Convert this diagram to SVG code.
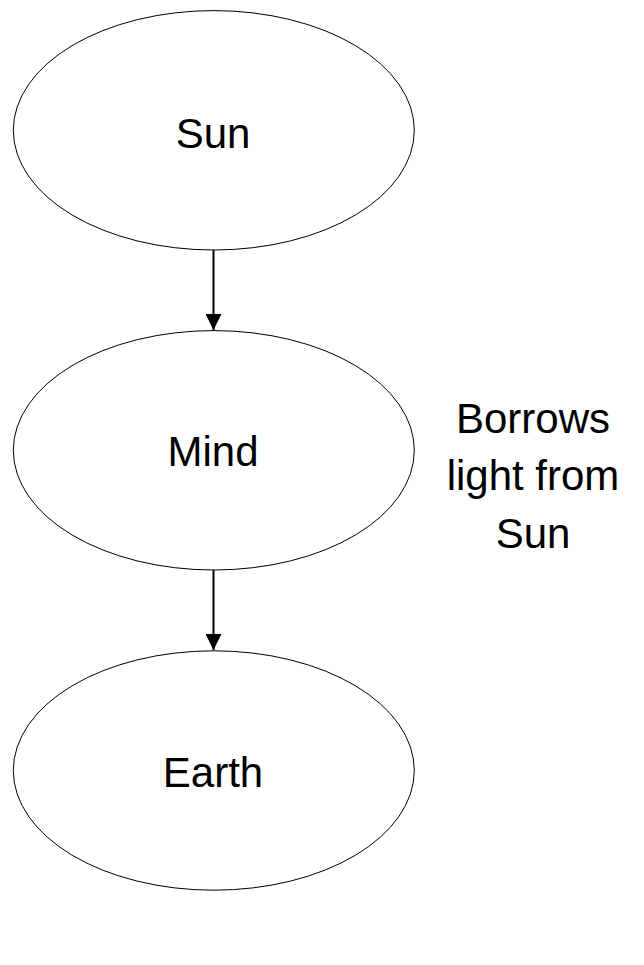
<svg xmlns="http://www.w3.org/2000/svg" width="644" height="965" viewBox="0 0 644 965">
<style>
.node ellipse{fill:#fff;stroke:#000;stroke-width:1}
.lbl{font-family:"Liberation Sans",Arial,sans-serif;font-size:42px;fill:#000;text-anchor:middle}
.edge{stroke:#000;stroke-width:2;fill:none}
</style>
<defs>
<marker id="arr" markerUnits="userSpaceOnUse" markerWidth="16" markerHeight="16" refX="15" refY="7.5" orient="auto" viewBox="0 0 15 15">
<path d="M0,0 L15,7.5 L0,15 z" fill="#000"/>
</marker>
</defs>
<rect width="644" height="965" fill="#fff"/>
<g id="connectors">
<line class="edge" x1="213.5" y1="250" x2="213.5" y2="330" marker-end="url(#arr)"/>
<line class="edge" x1="213.5" y1="570" x2="213.5" y2="650" marker-end="url(#arr)"/>
</g>
<g id="sun" class="node">
<ellipse cx="213.8" cy="130.3" rx="200.5" ry="119.7"/>
<text class="lbl" x="213" y="147.5">Sun</text>
</g>
<g id="mind" class="node">
<ellipse cx="213.8" cy="450.3" rx="200.5" ry="119.7"/>
<text class="lbl" x="213" y="466">Mind</text>
</g>
<g id="earth" class="node">
<ellipse cx="213.8" cy="770.5" rx="200.5" ry="119.7"/>
<text class="lbl" x="213" y="786.5">Earth</text>
</g>
<g id="note">
<text class="lbl" x="533" y="433">Borrows</text>
<text class="lbl" x="533" y="490">light from</text>
<text class="lbl" x="533" y="548">Sun</text>
</g>
</svg>
